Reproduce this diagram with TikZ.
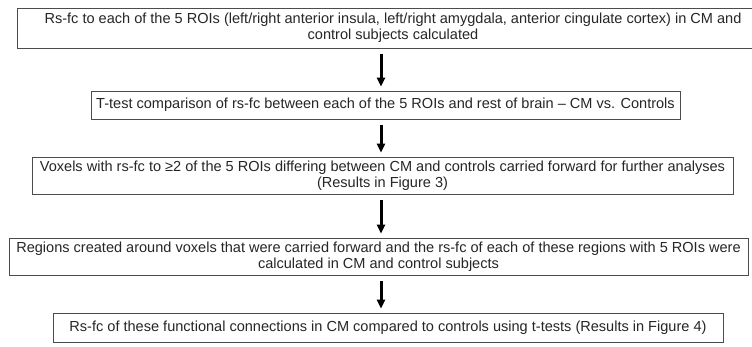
\documentclass[tikz,border=0pt]{standalone}
\usepackage{fontspec}
\setmainfont{Liberation Sans}
\usepackage{tikz}
\usetikzlibrary{arrows.meta}
\definecolor{mgray}{rgb}{0.3, 0.3, 0.3}
\tikzset{box/.style = {draw = mgray, line width = 0.8bp, align = center,
                       inner sep = 0, text = black!85,
                       font = \fontsize{14.6}{16.5}\selectfont}}
\tikzset{flow/.style = {-{Triangle[width=8bp, length=9bp]}, line width = 3bp}}

\begin{document}
\begin{tikzpicture}[x=1bp, y=-1bp]
      \useasboundingbox [fill=white] (0, 0) rectangle (752, 346);

      \node [box, minimum width=752bp, minimum height=40bp] (calc) at (393, 28)
        {Rs-fc to each of the 5 ROIs (left/right anterior insula, left/right amygdala, anterior cingulate cortex) in CM and\\
         control subjects calculated};
      \node [box, minimum width=589bp, minimum height=28bp] (ttest) at (385.5, 105)
        {T-test comparison of rs-fc between each of the 5 ROIs and rest of brain -- CM vs. Controls};
      \node [box, minimum width=701bp, minimum height=37bp] (voxels) at (382.5, 175.5)
        {Voxels with rs-fc to ≥2 of the 5 ROIs differing between CM and controls carried forward for further analyses\\
         (Results in Figure 3)};
      \node [box, minimum width=739bp, minimum height=37bp] (regions) at (378.5, 256.5)
        {Regions created around voxels that were carried forward and the rs-fc of each of these regions with 5 ROIs were\\
         calculated in CM and control subjects};
      \node [box, minimum width=670bp, minimum height=29bp] (compare) at (388, 327.5)
        {Rs-fc of these functional connections in CM compared to controls using t-tests (Results in Figure 4)};

      \coordinate (ax) at (381, 0);
      \foreach \a/\b in {calc/ttest, ttest/voxels, voxels/regions, regions/compare} {
        \draw [flow] ([yshift=-6bp]\a.south -| ax) -- ([yshift=4bp]\b.north -| ax);
      }
    \end{tikzpicture}
\end{document}
